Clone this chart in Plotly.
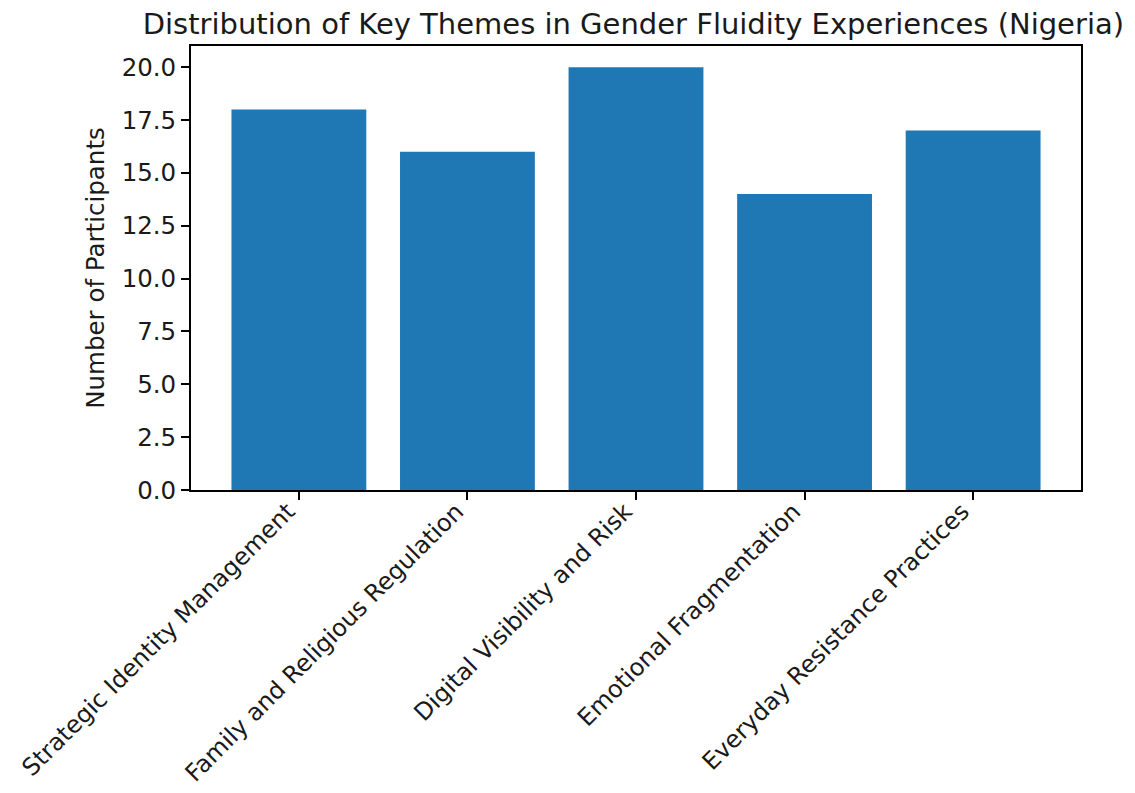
import plotly.graph_objects as go

themes = [
    "Strategic Identity Management",
    "Family and Religious Regulation",
    "Digital Visibility and Risk",
    "Emotional Fragmentation",
    "Everyday Resistance Practices",
]
participants = [18, 16, 20, 14, 17]
y_ticks = [0, 2.5, 5, 7.5, 10, 12.5, 15, 17.5, 20]

positions = list(range(len(themes)))

fig = go.Figure(
    go.Bar(
        x=positions,
        y=participants,
        width=0.8,
        marker=dict(color="#1f77b4", line=dict(width=0)),
    )
)

font = "DejaVu Sans"
txt = "#1a1a1a"
fig.update_layout(
    width=1135,
    height=793,
    margin=dict(l=183, r=62, t=38, b=311, autoexpand=False),
    paper_bgcolor="white",
    plot_bgcolor="white",
    showlegend=False,
    font=dict(family=font, size=24.5, color=txt),
    title=dict(
        text="Distribution of Key Themes in Gender Fluidity Experiences (Nigeria)",
        x=0.551,
        xanchor="center",
        y=0.98,
        yanchor="middle",
        font=dict(family=font, size=29, color=txt),
    ),
)
axis_common = dict(
    automargin=False,
    ticks="outside",
    ticklen=8,
    tickwidth=1.8,
    tickcolor="black",
    showline=True,
    linecolor="black",
    linewidth=1.8,
    mirror=True,
    showgrid=False,
    zeroline=False,
    tickfont=dict(family=font, size=24.5, color=txt),
)
fig.update_xaxes(
    range=[-0.64, 4.64],
    tickmode="array",
    tickvals=positions,
    ticktext=themes,
    tickangle=-45,
    ticklabelshift=-11,
    ticklabelstandoff=-12,
    **axis_common,
)
fig.update_xaxes(tickfont=dict(family=font, size=24, color=txt))
fig.update_yaxes(
    range=[0, 21],
    tickmode="array",
    tickvals=y_ticks,
    ticktext=[f"{v:.1f}" for v in y_ticks],
    title=dict(text="Number of Participants", standoff=10, font=dict(family=font, size=24.5, color=txt)),
    **axis_common,
)

fig.write_html("out.html")
